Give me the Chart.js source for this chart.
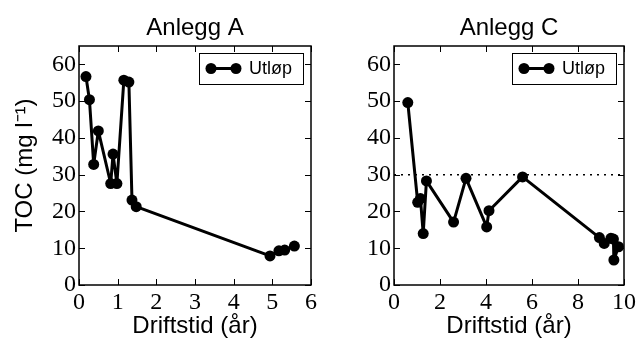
<!DOCTYPE html>
<html>
<head>
<meta charset="utf-8">
<script src="https://cdn.jsdelivr.net/npm/chart.js@4"></script>
<style>
  html, body { margin: 0; padding: 0; background: #fff; }
  body { width: 639px; height: 341px; position: relative; overflow: hidden; }
  canvas { position: absolute; top: 0; }
  #chartA { left: 0; }
  #chartC { left: 319px; }
</style>
</head>
<body>
<canvas id="chartA" width="320" height="341"></canvas>
<canvas id="chartC" width="320" height="341"></canvas>
<script>
// Data
const titles = ['Anlegg A', 'Anlegg C'];
const seriesLabel = 'Utløp';
const xTitle = 'Driftstid (år)';
const yTitle = 'TOC (mg l⁻¹)';

const timeA = [0.18, 0.27, 0.38, 0.50, 0.82, 0.88, 0.98, 1.16, 1.29, 1.37, 1.48, 4.94, 5.17, 5.32, 5.57];
const tocA  = [56.7, 50.4, 32.8, 41.9, 27.6, 35.6, 27.6, 55.7, 55.2, 23.1, 21.3, 7.9, 9.3, 9.5, 10.6];

const timeC = [0.60, 1.03, 1.15, 1.27, 1.41, 2.59, 3.13, 4.03, 4.13, 5.59, 8.93, 9.14, 9.43, 9.54, 9.56, 9.76];
const tocC  = [49.6, 22.5, 23.5, 14.0, 28.3, 17.1, 29.0, 15.8, 20.2, 29.4, 12.9, 11.3, 12.7, 12.5, 6.8, 10.4];

const limitX = [0, 10];
const limitY = [30, 30];

const xTicksA = [0, 1, 2, 3, 4, 5, 6];
const xTicksC = [0, 2, 4, 6, 8, 10];
const yTicks = [0, 10, 20, 30, 40, 50, 60];

const serif = '"Liberation Serif", serif';
const sans = '"Liberation Sans", Arial, sans-serif';

const toPts = (xs, ys) => xs.map((x, i) => ({ x, y: ys[i] }));

// Frame, inward ticks, title and legend
const decor = {
    id: 'decor',
    afterDatasetsDraw(chart, args, opts) {
        const { ctx, chartArea: a, scales: { x, y } } = chart;
        ctx.save();
        ctx.strokeStyle = '#000';
        ctx.lineWidth = 1;
        const t = 6;
        ctx.beginPath();
        x.ticks.forEach(tk => {
            const px = Math.round(x.getPixelForValue(tk.value)) + 0.5;
            ctx.moveTo(px, a.bottom); ctx.lineTo(px, a.bottom - t);
            ctx.moveTo(px, a.top); ctx.lineTo(px, a.top + t);
        });
        y.ticks.forEach(tk => {
            const py = Math.round(y.getPixelForValue(tk.value)) + 0.5;
            ctx.moveTo(a.left, py); ctx.lineTo(a.left + t, py);
            ctx.moveTo(a.right, py); ctx.lineTo(a.right - t, py);
        });
        ctx.stroke();
        ctx.lineWidth = 1.5;
        ctx.strokeRect(a.left, a.top, a.right - a.left, a.bottom - a.top);

        // title
        ctx.fillStyle = '#000';
        ctx.font = '24px ' + sans;
        ctx.textAlign = 'center';
        ctx.textBaseline = 'alphabetic';
        ctx.fillText(opts.title, (a.left + a.right) / 2, 35);

        // legend
        const ds = chart.data.datasets[0];
        const bw = 104, bh = 31;
        const bx = a.right - 8 - bw, by = a.top + 7;
        ctx.fillStyle = '#fff';
        ctx.fillRect(bx, by, bw, bh);
        ctx.lineWidth = 1;
        ctx.strokeRect(bx + 0.5, by + 0.5, bw, bh);
        const ly = by + bh / 2;
        ctx.strokeStyle = ds.borderColor;
        ctx.lineWidth = ds.borderWidth;
        ctx.beginPath();
        ctx.moveTo(bx + 12, ly); ctx.lineTo(bx + 37, ly);
        ctx.stroke();
        ctx.fillStyle = ds.pointBackgroundColor;
        [bx + 12, bx + 37].forEach(cx => {
            ctx.beginPath();
            ctx.arc(cx, ly, ds.pointRadius, 0, Math.PI * 2);
            ctx.fill();
        });
        ctx.fillStyle = '#000';
        ctx.font = '18px ' + sans;
        ctx.textAlign = 'left';
        ctx.textBaseline = 'middle';
        ctx.fillText(ds.label, bx + 50, ly + 1);
        ctx.restore();
    }
};

function makeChart(id, title, xs, ys, xMax, xTicks, yWidth, padRight, extra) {
    const datasets = [{
        label: seriesLabel,
        data: toPts(xs, ys),
        borderColor: '#000',
        backgroundColor: '#000',
        pointBackgroundColor: '#000',
        pointBorderWidth: 0,
        borderWidth: 3,
        borderJoinStyle: 'round',
        pointRadius: 5.5,
        tension: 0,
        clip: false
    }];
    if (extra) datasets.push(extra);

    return new Chart(document.getElementById(id), {
        type: 'line',
        data: { datasets },
        options: {
            responsive: false,
            animation: false,
            layout: { padding: { top: 46, right: padRight, left: 0, bottom: 0 } },
            plugins: {
                legend: { display: false },
                tooltip: { enabled: false },
                decor: { title }
            },
            scales: {
                x: {
                    type: 'linear',
                    min: 0, max: xMax,
                    grid: { display: false, drawTicks: false },
                    border: { display: false },
                    afterBuildTicks: s => { s.ticks = xTicks.map(v => ({ value: v })); },
                    afterFit: s => { s.height = 56; },
                    ticks: { color: '#000', padding: 3, font: { family: serif, size: 24 }, maxRotation: 0 },
                    title: { display: true, text: xTitle, color: '#000', font: { family: sans, size: 24 }, padding: { top: 0, bottom: 0 } }
                },
                y: {
                    min: 0, max: 65,
                    grid: { display: false, drawTicks: false },
                    border: { display: false },
                    afterBuildTicks: s => { s.ticks = yTicks.map(v => ({ value: v })); },
                    afterFit: s => { s.width = yWidth; },
                    ticks: { color: '#000', padding: 3, font: { family: serif, size: 24 } },
                    title: {
                        display: id === 'chartA', text: yTitle, color: '#000',
                        font: { family: sans, size: 24 }, padding: { top: 11, bottom: 0 }
                    }
                }
            }
        },
        plugins: [decor]
    });
}

makeChart('chartA', titles[0], timeA, tocA, 6, xTicksA, 79, 8, null);
makeChart('chartC', titles[1], timeC, tocC, 10, xTicksC, 75, 12, {
    label: 'limit',
    data: toPts(limitX, limitY),
    borderColor: '#000',
    borderWidth: 1.5,
    borderDash: [2, 5],
    pointRadius: 0,
    tension: 0
});
</script>
</body>
</html>
